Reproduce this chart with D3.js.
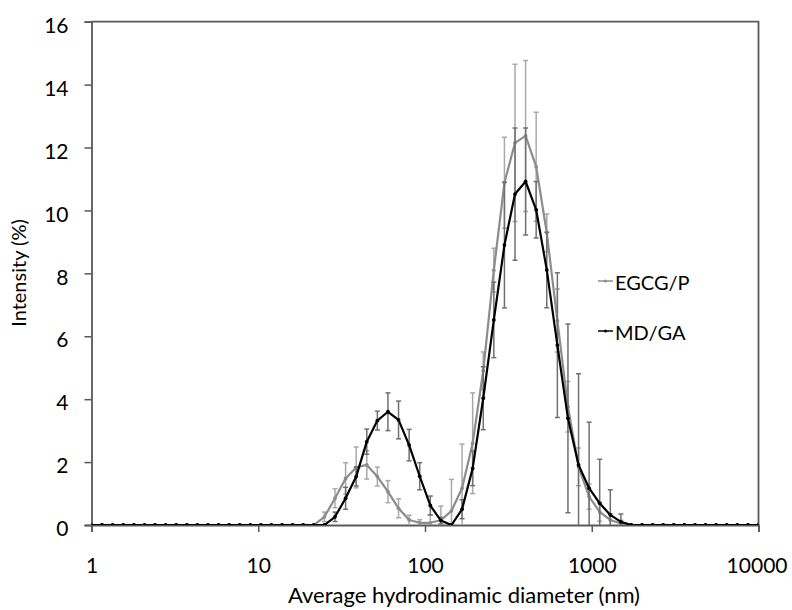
<!DOCTYPE html>
<html>
<head>
<meta charset="utf-8">
<script src="https://cdn.jsdelivr.net/npm/d3@7"></script>
<style>
  html, body { margin: 0; padding: 0; background: #fff; }
  svg { display: block; font-family: Lato, "Open Sans", sans-serif; }
</style>
</head>
<body>
<svg id="chart" width="792" height="610"></svg>
<script>
// ---- data ----
const diameters = [1, 1.157, 1.339, 1.551, 1.795, 2.077, 2.404, 2.783, 3.221, 3.728,
  4.314, 4.994, 5.780, 6.690, 7.743, 8.962, 10.37, 12.00, 13.90, 16.08,
  18.61, 21.54, 24.94, 28.86, 33.41, 38.66, 44.75, 51.80, 59.95, 69.39,
  80.32, 92.96, 107.6, 124.5, 144.1, 166.8, 193.1, 223.5, 258.7, 299.5,
  346.6, 401.2, 464.2, 537.4, 622.0, 719.9, 833.3, 964.5, 1116, 1292,
  1495, 1731, 2003, 2319, 2683, 3106, 3594, 4160, 4815, 5573,
  6449, 7465, 8640, 10000];

const egcgValues = [0, 0, 0, 0, 0, 0, 0, 0, 0, 0,
  0, 0, 0, 0, 0, 0, 0, 0, 0, 0,
  0, 0, 0.26, 0.85, 1.48, 1.83, 1.91, 1.54, 1.06, 0.53,
  0.16, 0.07, 0.07, 0.15, 0.45, 1.17, 2.6, 4.9, 8.1, 10.88,
  12.15, 12.37, 11.39, 9.29, 6.5, 3.76, 1.85, 0.9, 0.42, 0.16,
  0.05, 0, 0, 0, 0, 0, 0, 0, 0, 0,
  0, 0, 0, 0];
const egcgErrors = [0, 0, 0, 0, 0, 0, 0, 0, 0, 0,
  0, 0, 0, 0, 0, 0, 0, 0, 0, 0,
  0, 0, 0.15, 0.3, 0.5, 0.65, 0.45, 0.3, 0.35, 0.3,
  0.15, 0.1, 0.25, 0.45, 1.0, 1.4, 1.6, 0.6, 0.7, 1.45,
  2.5, 2.4, 1.73, 0.6, 1.0, 0.8, 0.6, 0.4, 0.3, 0.2,
  0.1, 0, 0, 0, 0, 0, 0, 0, 0, 0,
  0, 0, 0, 0];

const mdgaValues = [0, 0, 0, 0, 0, 0, 0, 0, 0, 0,
  0, 0, 0, 0, 0, 0, 0, 0, 0, 0,
  0, 0, 0, 0.26, 0.85, 1.54, 2.65, 3.32, 3.60, 3.34,
  2.54, 1.55, 0.62, 0.14, 0, 0.5, 1.80, 4.03, 6.52, 8.90,
  10.52, 10.92, 10.02, 8.11, 5.72, 3.39, 1.91, 1.17, 0.69, 0.32,
  0.10, 0, 0, 0, 0, 0, 0, 0, 0, 0,
  0, 0, 0, 0];
const mdgaErrors = [0, 0, 0, 0, 0, 0, 0, 0, 0, 0,
  0, 0, 0, 0, 0, 0, 0, 0, 0, 0,
  0, 0, 0, 0.15, 0.35, 0.3, 0.4, 0.3, 0.6, 0.6,
  0.5, 0.43, 0.3, 0.1, 0, 0.3, 0.55, 1.0, 1.2, 2.0,
  2.1, 1.7, 0.9, 1.2, 2.3, 3.0, 2.9, 2.1, 1.4, 0.8,
  0.25, 0, 0, 0, 0, 0, 0, 0, 0, 0,
  0, 0, 0, 0];

const seriesNames = ["EGCG/P", "MD/GA"];
const xTicks = [1, 10, 100, 1000, 10000];
const yTicks = [0, 2, 4, 6, 8, 10, 12, 14, 16];
const xTitle = "Average hydrodinamic diameter (nm)";
const yTitle = "Intensity (%)";

(function () {
// ---- layout ----
const svg = d3.select("#chart");
const W = 792, H = 610;
const pLeft = 91.5, pRight = 758.5, pTop = 21.7, pBottom = 525;

const x = d3.scaleLog().domain([1, 10000]).range([pLeft, pRight]);
const y = d3.scaleLinear().domain([0, 16]).range([pBottom, pTop]);

const axisColor = "#595959";
const textColor = "#000";

svg.append("defs").append("clipPath").attr("id", "plotclip")
  .append("rect").attr("x", pLeft).attr("y", pTop)
  .attr("width", pRight - pLeft).attr("height", pBottom - pTop);

// frame (top & right)
svg.append("path")
  .attr("d", `M${pLeft},${pTop}H${pRight}V${pBottom}`)
  .attr("fill", "none").attr("stroke", axisColor).attr("stroke-width", 1.8);

// y axis
const yAxis = d3.axisLeft(y).tickValues(yTicks).tickSize(7).tickPadding(0).tickFormat(d3.format("d"));
const gy = svg.append("g").attr("transform", `translate(${pLeft},0)`).call(yAxis);
gy.select(".domain").attr("stroke", axisColor).attr("stroke-width", 1.8);
gy.selectAll(".tick line").attr("stroke", axisColor).attr("stroke-width", 1.5);
gy.selectAll(".tick text")
  .attr("x", -23).attr("dy", "0.32em").attr("y", 4)
  .attr("fill", textColor).style("font-size", "21px").style("font-family", "Lato, sans-serif")
  .attr("text-anchor", "end");

// x axis
const xAxis = d3.axisBottom(x).tickValues(xTicks).tickSize(7).tickPadding(0).tickFormat(d3.format("d"));
const gx = svg.append("g").attr("transform", `translate(0,${pBottom})`).call(xAxis);
gx.select(".domain").attr("stroke", axisColor).attr("stroke-width", 1.8);
gx.selectAll(".tick line").attr("stroke", axisColor).attr("stroke-width", 1.5);
gx.selectAll(".tick text")
  .attr("y", 48).attr("dy", 0)
  .attr("fill", textColor).style("font-size", "21px").style("font-family", "Lato, sans-serif");
// keep the last label inside the chart area like the original
gx.selectAll(".tick text").each(function(d) {
  const bb = this.getBBox();
  const absRight = x(d) + bb.width / 2;
  if (absRight > W - 5) {
    d3.select(this).attr("text-anchor", "end").attr("x", (W - 5) - x(d));
  }
});

// titles
svg.append("text")
  .attr("x", 464).attr("y", 603)
  .attr("text-anchor", "middle")
  .style("font-size", "22px").attr("fill", textColor)
  .text(xTitle);
svg.append("text")
  .attr("transform", `translate(26,273) rotate(-90)`)
  .attr("text-anchor", "middle")
  .style("font-size", "20px").attr("fill", textColor)
  .text(yTitle);

// ---- series ----
const series = [
  { name: seriesNames[0], values: egcgValues, errors: egcgErrors, color: "#8c8c8c", barColor: "#a8a8a8" },
  { name: seriesNames[1], values: mdgaValues, errors: mdgaErrors, color: "#000000", barColor: "#707070" }
];

const plot = svg.append("g").attr("clip-path", "url(#plotclip)");
const line = d3.line().x(d => x(d.d)).y(d => y(d.v));

series.forEach(s => {
  const pts = diameters.map((d, i) => ({ d, v: s.values[i], e: s.errors[i] }));
  const g = plot.append("g");
  const eb = g.selectAll("g.eb").data(pts.filter(p => p.e > 0)).join("g").attr("class", "eb");
  eb.append("line")
    .attr("x1", p => x(p.d)).attr("x2", p => x(p.d))
    .attr("y1", p => y(p.v + p.e)).attr("y2", p => y(p.v - p.e))
    .attr("stroke", s.barColor).attr("stroke-width", 1.5);
  eb.append("line")
    .attr("x1", p => x(p.d) - 2.5).attr("x2", p => x(p.d) + 2.5)
    .attr("y1", p => y(p.v + p.e)).attr("y2", p => y(p.v + p.e))
    .attr("stroke", s.barColor).attr("stroke-width", 1.5);
  eb.append("line")
    .attr("x1", p => x(p.d) - 2.5).attr("x2", p => x(p.d) + 2.5)
    .attr("y1", p => y(p.v - p.e)).attr("y2", p => y(p.v - p.e))
    .attr("stroke", s.barColor).attr("stroke-width", 1.5);
  g.append("path").datum(pts).attr("d", line)
    .attr("fill", "none").attr("stroke", s.color).attr("stroke-width", 2.2)
    .attr("stroke-linejoin", "round");
  g.selectAll("circle").data(pts).join("circle")
    .attr("cx", p => x(p.d)).attr("cy", p => y(p.v)).attr("r", 1.9)
    .attr("fill", s.color);
});

// ---- legend ----
const legendY = [281, 331];
series.forEach((s, i) => {
  const g = svg.append("g");
  g.append("line").attr("x1", 598).attr("x2", 613)
    .attr("y1", legendY[i]).attr("y2", legendY[i])
    .attr("stroke", s.color).attr("stroke-width", 1.5);
  g.append("circle").attr("cx", 605.5).attr("cy", legendY[i]).attr("r", 1.6).attr("fill", s.color);
  g.append("text").attr("x", 615).attr("y", legendY[i] + 9)
    .style("font-size", "20px").attr("fill", textColor).text(s.name);
});
})();
</script>
</body>
</html>
